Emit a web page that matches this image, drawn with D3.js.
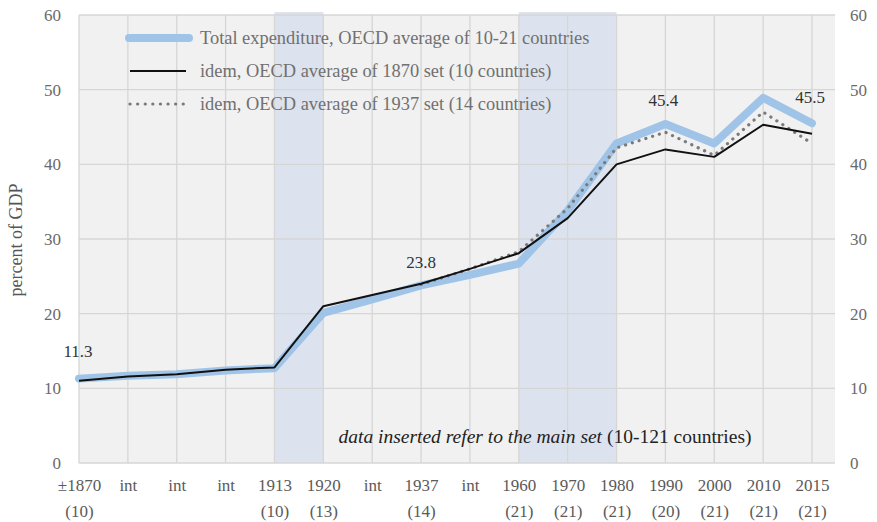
<!DOCTYPE html>
<html>
<head>
<meta charset="utf-8">
<script src="https://cdn.jsdelivr.net/npm/d3@7"></script>
<style>
  html, body { margin: 0; padding: 0; background: #fff; }
  svg { display: block; }
  text { font-family: "Liberation Serif", "DejaVu Serif", serif; }
</style>
</head>
<body>
<svg id="chart" width="877" height="522"></svg>
<script>
// Period labels (two rows: period, number of countries in the set)
const periods = ["±1870", "int", "int", "int", "1913", "1920", "int", "1937", "int",
                 "1960", "1970", "1980", "1990", "2000", "2010", "2015"];
const setSizes = ["(10)", "", "", "", "(10)", "(13)", "", "(14)", "",
                  "(21)", "(21)", "(21)", "(20)", "(21)", "(21)", "(21)"];

// Public expenditure, percent of GDP
const totalMain = [11.3, 11.7, 11.9, 12.4, 12.7, 20.1, 21.9, 23.8, 25.2, 26.7, 33.8, 42.8, 45.4, 42.8, 48.9, 45.5];
const set1870   = [11.0, 11.6, 11.9, 12.5, 12.8, 21.0, 22.5, 24.0, 26.0, 28.1, 32.8, 40.0, 42.0, 41.0, 45.3, 44.1];
const set1937   = [null, null, null, null, null, null, null, 23.9, 26.0, 28.3, 34.1, 42.2, 44.3, 41.2, 47.0, 42.8];

// Value labels placed on the main series
const labelled = [0, 7, 12, 15];

// War and post-war periods shaded
const bands = [["1913", "1920"], ["1960", "1980"]];

const yTicks = [0, 10, 20, 30, 40, 50, 60];

const legendItems = [
  { text: "Total expenditure, OECD average of 10-21 countries", kind: "main" },
  { text: "idem, OECD average of 1870 set (10 countries)", kind: "s1870" },
  { text: "idem, OECD average of 1937 set (14 countries)", kind: "s1937" }
];

const svg = d3.select("#chart");
const plotLeft = 79, plotRight = 835, plotTop = 15, plotBottom = 463;

const x = d3.scalePoint().domain(d3.range(periods.length)).range([79, 812]);
const y = d3.scaleLinear().domain([0, 60]).range([plotBottom, plotTop]);

const styles = {
  main:  { stroke: "#9fc4e8", width: 8, dash: null, cap: "round" },
  s1870: { stroke: "#111111", width: 2, dash: null, cap: "butt" },
  s1937: { stroke: "#7a7a7a", width: 3.2, dash: "0.1 7", cap: "round" }
};

// plot background
svg.append("rect")
  .attr("x", plotLeft).attr("y", plotTop)
  .attr("width", plotRight - plotLeft).attr("height", plotBottom - plotTop)
  .attr("fill", "#f1f1f1");

// shaded periods
const bandG = svg.append("g");
bands.forEach(([a, b]) => {
  const i0 = periods.indexOf(a), i1 = periods.indexOf(b);
  bandG.append("rect")
    .attr("x", x(i0)).attr("y", 12)
    .attr("width", x(i1) - x(i0)).attr("height", plotBottom - 12)
    .attr("fill", "#dde3ee");
});

// grid
const grid = svg.append("g").attr("stroke", "#d6d6d6").attr("stroke-width", 1.3);
yTicks.forEach(t => {
  grid.append("line")
    .attr("x1", plotLeft).attr("x2", plotRight)
    .attr("y1", y(t)).attr("y2", y(t));
});
d3.range(periods.length).forEach(i => {
  grid.append("line")
    .attr("x1", x(i)).attr("x2", x(i))
    .attr("y1", plotTop).attr("y2", plotBottom);
});

// y axes, left and right
const axisLeft = d3.axisLeft(y).tickValues(yTicks).tickSize(0).tickPadding(0);
const axisRight = d3.axisRight(y).tickValues(yTicks).tickSize(0).tickPadding(0);
const gl = svg.append("g").attr("transform", "translate(61,0)").call(axisLeft);
const gr = svg.append("g").attr("transform", "translate(850,0)").call(axisRight);
[gl, gr].forEach(g => {
  g.select(".domain").remove();
  g.selectAll("text")
    .attr("fill", "#6a6a6a")
    .style("font-size", "17px")
    .style("font-family", "'Liberation Serif', serif");
});

// x axis, two label rows
const axisBottom = d3.axisBottom(x).tickSize(0).tickPadding(0).tickFormat(i => periods[i]);
const gb = svg.append("g").attr("transform", "translate(0,479)").call(axisBottom);
gb.select(".domain").remove();
gb.selectAll("text")
  .attr("fill", "#5a5a5a")
  .style("font-size", "17px")
  .style("font-family", "'Liberation Serif', serif");
gb.selectAll(".tick").append("text")
  .attr("fill", "#5a5a5a")
  .attr("y", 26).attr("dy", "0.71em")
  .attr("text-anchor", "middle")
  .style("font-size", "17px")
  .text(i => setSizes[i]);

// y axis title
svg.append("text")
  .attr("transform", "translate(22,240) rotate(-90)")
  .attr("text-anchor", "middle")
  .attr("fill", "#555")
  .style("font-size", "18px")
  .text("percent of GDP");

// series lines
const line = d3.line()
  .defined(d => d != null)
  .x((d, i) => x(i))
  .y(d => y(d));

function drawSeries(values, kind) {
  const s = styles[kind];
  svg.append("path")
    .datum(values)
    .attr("fill", "none")
    .attr("stroke", s.stroke)
    .attr("stroke-width", s.width)
    .attr("stroke-linejoin", "round")
    .attr("stroke-linecap", s.cap)
    .attr("stroke-dasharray", s.dash)
    .attr("d", line);
}
drawSeries(totalMain, "main");
drawSeries(set1937, "s1937");
drawSeries(set1870, "s1870");

// value labels
const labelOffsets = { 0: [-1, -22], 7: [0, -17], 12: [-2, -18], 15: [-2, -20] };
labelled.forEach(i => {
  const [dx, dy] = labelOffsets[i];
  svg.append("text")
    .attr("x", x(i) + dx).attr("y", y(totalMain[i]) + dy)
    .attr("text-anchor", "middle")
    .attr("fill", "#333")
    .style("font-size", "17px")
    .text(totalMain[i].toFixed(1));
});

// legend
const legend = svg.append("g");
legendItems.forEach((item, k) => {
  const s = styles[item.kind];
  const ly = 38 + k * 33;
  legend.append("line")
    .attr("x1", item.kind === "main" ? 129 : 130).attr("x2", item.kind === "main" ? 189 : 186)
    .attr("y1", ly).attr("y2", ly)
    .attr("stroke", s.stroke)
    .attr("stroke-width", item.kind === "main" ? 8 : s.width)
    .attr("stroke-linecap", s.cap)
    .attr("stroke-dasharray", item.kind === "s1937" ? "0.1 7.5" : null);
  legend.append("text")
    .attr("x", 200).attr("y", ly + 6)
    .attr("fill", "#707070")
    .style("font-size", "18.4px")
    .text(item.text);
});

// note
const note = svg.append("text")
  .attr("x", 545).attr("y", 443)
  .attr("text-anchor", "middle")
  .attr("fill", "#222")
  .style("font-size", "19.5px");
note.append("tspan").style("font-style", "italic").text("data inserted refer to the main set ");
note.append("tspan").text("(10-121 countries)");
</script>
</body>
</html>
